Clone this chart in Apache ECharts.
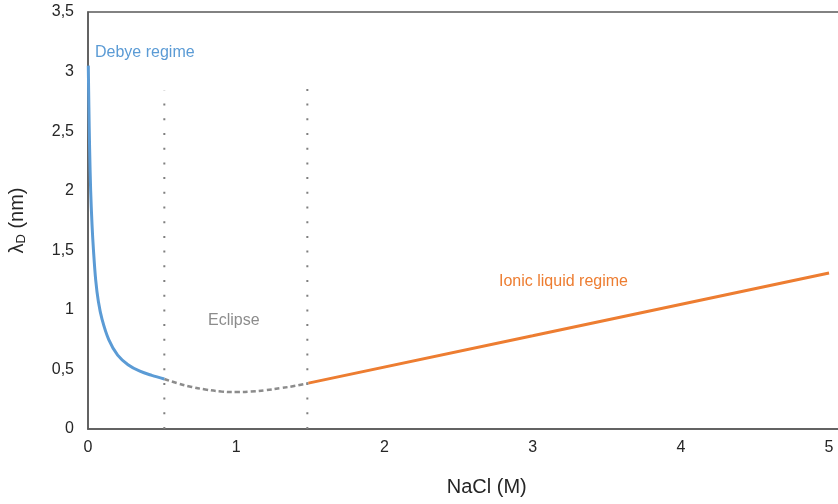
<!DOCTYPE html>
<html>
<head>
<meta charset="utf-8">
<script src="https://cdn.jsdelivr.net/npm/echarts@6/dist/echarts.min.js"></script>
<style>
  html, body { margin: 0; padding: 0; background: #fff; }
  #main { width: 838px; height: 504px; }
</style>
</head>
<body>
<div id="main"></div>
<script>
// values: [NaCl (M), lambda_D (nm)]
var debyeData = [
  [0.002, 3.05], [0.006, 2.70], [0.011, 2.35], [0.018, 2.00], [0.027, 1.72],
  [0.037, 1.50], [0.052, 1.25], [0.07, 1.07], [0.095, 0.92], [0.14, 0.75],
  [0.2, 0.62], [0.27, 0.54], [0.35, 0.485], [0.43, 0.45], [0.515, 0.42]
];
var eclipseData = [
  [0.515, 0.42], [0.6, 0.385], [0.7, 0.353], [0.8, 0.33], [0.9, 0.315],
  [1.0, 0.31], [1.1, 0.314], [1.2, 0.326], [1.3, 0.343], [1.4, 0.363], [1.487, 0.385]
];
var ionicData = [[1.487, 0.385], [3.0, 0.782], [5.0, 1.31]];
var boundary1 = [[0.515, 0], [0.515, 2.84]];
var boundary2 = [[1.48, 0], [1.48, 2.88]];
var yTicks = { min: 0, max: 3.5, step: 0.5 };

var chart = echarts.init(document.getElementById('main'));
var axisGrey = '#595959';
var font = 'Arial, Liberation Sans';

var option = {
  backgroundColor: '#FFFFFF',
  animation: false,
  grid: {
    left: 88,
    top: 12,
    width: 785.5,
    height: 417,
    outerBoundsMode: 'none',
    show: true,
    borderColor: axisGrey,
    borderWidth: 1.5
  },
  xAxis: {
    type: 'value',
    min: 0,
    max: 5.3,
    interval: 1,
    name: 'NaCl (M)',
    nameLocation: 'middle',
    nameGap: 48,
    nameTextStyle: { fontSize: 20, color: '#262626', fontFamily: font, padding: [0, 0, 0, 12] },
    axisLine: { lineStyle: { color: axisGrey, width: 1.5 } },
    axisTick: { show: false },
    splitLine: { show: false },
    axisLabel: {
      showMaxLabel: false,
      margin: 11,
      fontSize: 16,
      color: '#262626',
      fontFamily: font
    }
  },
  yAxis: {
    type: 'value',
    min: yTicks.min,
    max: yTicks.max,
    interval: yTicks.step,
    name: '{a|λ}{b|D}{a| (nm)}',
    nameLocation: 'middle',
    nameRotate: 90,
    nameGap: 60,
    nameTextStyle: {
      color: '#262626',
      rich: {
        a: { fontSize: 20, color: '#262626', fontFamily: font },
        b: { fontSize: 13, color: '#262626', fontFamily: font, verticalAlign: 'bottom', padding: [8, 0, 0, 0] }
      }
    },
    axisLine: { show: true, lineStyle: { color: axisGrey, width: 1.5 } },
    axisTick: { show: false },
    splitLine: { show: false },
    axisLabel: {
      margin: 14,
      fontSize: 16,
      color: '#262626',
      fontFamily: font,
      formatter: function (v) { return String(v).replace('.', ','); }
    }
  },
  series: [
    {
      type: 'line', data: boundary1, symbol: 'none', silent: true,
      lineStyle: { color: '#7f7f7f', width: 2, type: [2, 12.7] }
    },
    {
      type: 'line', data: boundary2, symbol: 'none', silent: true,
      lineStyle: { color: '#7f7f7f', width: 2, type: [2, 12.7] }
    },
    {
      name: 'Eclipse', type: 'line', data: eclipseData, symbol: 'none', smooth: true,
      lineStyle: { color: '#8c8c8c', width: 2.5, type: [5, 3] }
    },
    {
      name: 'Debye regime', type: 'line', data: debyeData, symbol: 'none', smooth: 0.35,
      lineStyle: { color: '#5b9bd5', width: 3 }
    },
    {
      name: 'Ionic liquid regime', type: 'line', data: ionicData, symbol: 'none',
      lineStyle: { color: '#ed7d31', width: 3 }
    }
  ],
  graphic: [
    { type: 'text', left: 95, top: 45, style: { text: 'Debye regime', fill: '#5b9bd5', fontSize: 16, fontFamily: font } },
    { type: 'text', left: 208, top: 313, style: { text: 'Eclipse', fill: '#8c8c8c', fontSize: 16, fontFamily: font } },
    { type: 'text', left: 499, top: 274, style: { text: 'Ionic liquid regime', fill: '#ed7d31', fontSize: 16, fontFamily: font } }
  ]
};

chart.setOption(option);
</script>
</body>
</html>
